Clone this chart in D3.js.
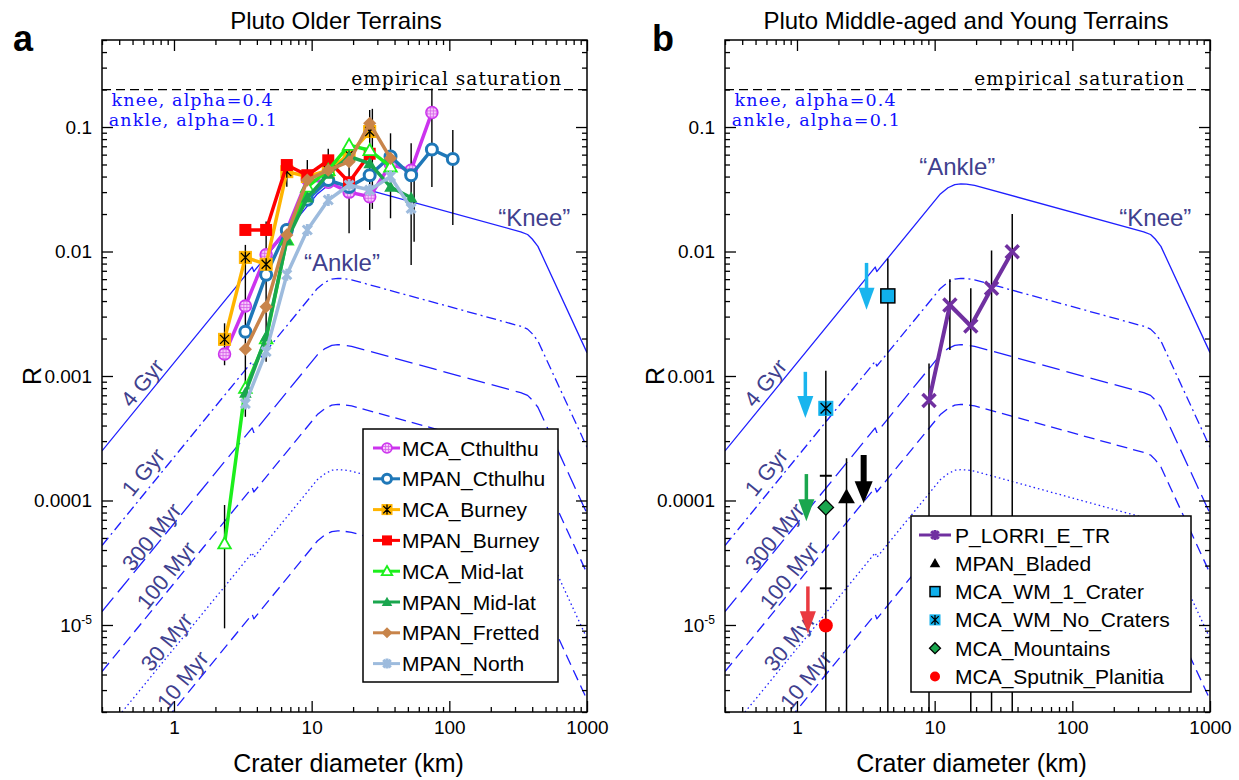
<!DOCTYPE html>
<html>
<head>
<meta charset="utf-8">
<script src="https://cdn.jsdelivr.net/npm/d3@7"></script>
<style>
  body { margin: 0; background: #fff; }
  text { font-family: "Liberation Sans", Arial, sans-serif; }
  .serif { font-family: "DejaVu Serif", serif; }
</style>
</head>
<body>
<svg id="fig" width="1239" height="780"></svg>
<script>
// ---- model isochrons (crater diameter km, R) ----
const modelD      = [0.3, 3.7, 3.8, 11, 12.5, 14, 15.5, 17, 19.5, 330, 370, 400, 440, 1000];
const model4Gyr   = [2.5e-4, 7.5e-3, 6.9e-3, 2.9e-2, 3.25e-2, 3.45e-2, 3.50e-2, 3.48e-2, 3.40e-2, 1.44e-2, 1.37e-2, 1.26e-2, 1.10e-2, 1.54e-3];
const model1Gyr   = [4.35e-5, 1.31e-3, 1.20e-3, 5.05e-3, 5.66e-3, 6.00e-3, 6.09e-3, 6.06e-3, 5.92e-3, 2.51e-3, 2.38e-3, 2.19e-3, 1.91e-3, 2.68e-4];
const model300Myr = [1.28e-5, 3.83e-4, 3.52e-4, 1.48e-3, 1.66e-3, 1.76e-3, 1.79e-3, 1.77e-3, 1.73e-3, 7.34e-4, 6.99e-4, 6.43e-4, 5.61e-4, 7.85e-5];
const model100Myr = [4.23e-6, 1.27e-4, 1.17e-4, 4.90e-4, 5.49e-4, 5.83e-4, 5.92e-4, 5.88e-4, 5.75e-4, 2.43e-4, 2.32e-4, 2.13e-4, 1.86e-4, 2.60e-5];
const model30Myr  = [1.27e-6, 3.80e-5, 3.49e-5, 1.47e-4, 1.64e-4, 1.75e-4, 1.77e-4, 1.76e-4, 1.72e-4, 7.29e-5, 6.93e-5, 6.38e-5, 5.57e-5, 7.79e-6];
const model10Myr  = [4.08e-7, 1.22e-5, 1.12e-5, 4.73e-5, 5.30e-5, 5.62e-5, 5.71e-5, 5.67e-5, 5.54e-5, 2.35e-5, 2.23e-5, 2.05e-5, 1.79e-5, 2.51e-6];
const ageLabels   = ["4 Gyr", "1 Gyr", "300 Myr", "100 Myr", "30 Myr", "10 Myr"];
const ageLabelD   = [0.59, 0.60, 0.69, 0.88, 0.885, 1.16];
const ageLabelR   = [8.8e-4, 1.69e-4, 5.1e-5, 2.5e-5, 7.3e-6, 3.6e-6];
const saturationR = 0.2;

// ---- panel a: older terrains ----
const binD = [2.33, 3.3, 4.67, 6.6, 9.3, 13.2, 18.7, 26.4, 37.4, 52.8, 74.7, 106];
const mcaCthulthu  = [1.50e-3, 3.65e-3, 9.4e-3, 0.0149, 0.038, 0.036, 0.030, 0.0275, 0.050, 0.045, 0.131, null];
const mpanCthulhu  = [null, 2.27e-3, 6.5e-3, 0.0149, 0.026, 0.0375, 0.033, 0.041, 0.058, 0.041, 0.066, 0.0553];
const mcaBurney    = [1.97e-3, 8.97e-3, 7.9e-3, 0.0438, 0.040, 0.045, 0.060, 0.092, null, null, null, null];
const mpanBurney   = [null, 0.0149, 0.0149, 0.0495, 0.041, 0.054, 0.036, 0.061, null, null, null, null];
const mcaMidlat    = [4.5e-5, 8.0e-4, 2.0e-3, 0.0124, 0.033, 0.045, 0.0716, 0.065, 0.048, null, null, null];
const mpanMidlat   = [null, 7.3e-4, 2.07e-3, 0.0124, 0.027, 0.042, 0.058, 0.051, 0.033, 0.027, null, null];
const mpanFretted  = [null, 1.64e-3, 3.6e-3, 0.0136, 0.0375, 0.045, 0.0526, 0.107, 0.056, null, null, null];
const mpanNorth    = [null, 6.0e-4, 1.57e-3, 6.5e-3, 0.0149, 0.0259, 0.0342, 0.0312, 0.040, 0.0222, null, null];
const olderNames   = ["MCA_Cthulthu", "MPAN_Cthulhu", "MCA_Burney", "MPAN_Burney", "MCA_Mid-lat", "MPAN_Mid-lat", "MPAN_Fretted", "MPAN_North"];
const olderSeries  = [mcaCthulthu, mpanCthulhu, mcaBurney, mpanBurney, mcaMidlat, mpanMidlat, mpanFretted, mpanNorth];
const olderErrD    = [2.33, 2.33, 3.3, 4.67, 6.6, 9.3, 13.2, 18.7, 26.4, 27.6, 37.4, 52.8, 55.5, 74.7, 106];
const olderErrLo   = [1.22e-3, 9.4e-6, 4.7e-4, 1.30e-3, 0.0332, 0.036, 0.045, 0.014, 0.0149, 0.022, 0.0185, 7.8e-3, 0.012, 0.033, 0.0163];
const olderErrHi   = [2.65e-3, 9.2e-5, 0.0113, 0.0174, 0.0543, 0.0543, 0.067, 0.0596, 0.137, 0.14, 0.089, 0.074, 0.047, 0.204, 0.0946];

// ---- panel b: middle-aged and young terrains ----
const lorriD = [9.1, 12.9, 18.3, 25.9, 36.6];
const lorriR = [6.35e-4, 3.72e-3, 2.52e-3, 5.07e-3, 9.97e-3];
const youngNames = ["MPAN_Bladed", "MCA_WM_1_Crater", "MCA_WM_No_Craters", "MCA_Mountains", "MCA_Sputnik_Planitia"];
const youngD     = [2.29, 4.57, 1.62, 1.62, 1.62];
const youngR     = [1.07e-4, 4.4e-3, 5.5e-4, 8.8e-5, 9.9e-6];
const youngErrD  = [1.62, 2.29, 4.57, 9.1, 12.9, 18.3, 25.9, 36.6];
const youngErrLo = [1e-7, 1e-7, 1e-7, 1e-7, 1.62e-3, 1e-7, 1e-7, 1e-7];
const youngErrHi = [1.1e-3, 2.18e-4, 8.8e-3, 1.26e-3, 5.98e-3, 5.07e-3, 0.0102, 0.020];
const youngCapR  = [1.58e-4, 1.97e-5];
const arrowD     = [3.2, 1.15, 1.17, 1.2, 3.05];
const arrowFrom  = [8.1e-3, 1.08e-3, 1.63e-4, 2.04e-5, 2.32e-4];
const arrowTo    = [3.4e-3, 4.6e-4, 6.8e-5, 8.6e-6, 9.5e-5];

// ---- layout / styles ----
const xDomain = [0.3, 1000], yDomain = [2e-6, 0.5];
const plotW = 485, plotTop = 40, plotBottom = 712;
const panelLeft = [102, 725];
const panelTag = ["a", "b"], tagX = [13, 652];
const panelTitle = ["Pluto Older Terrains", "Pluto Middle-aged and Young Terrains"], titleX = [336, 966];
const curveBlue = "#1f1fff", labelBlue = "#40408e";
const modelSeries = [model4Gyr, model1Gyr, model300Myr, model100Myr, model30Myr, model10Myr];
const modelDash = [null, "10,4,2,4", "18,7", "11,6", "1.5,3", "11,6"];
const olderStyle = [
  {c: "#cc33ee", m: "circleHatch"}, {c: "#1f78b8", m: "circleOpen"},
  {c: "#ffb400", m: "squareStar"},  {c: "#ff0000", m: "square"},
  {c: "#1cef1c", m: "triOpen"},     {c: "#1aa64e", m: "tri"},
  {c: "#c8844a", m: "diamond"},     {c: "#9dbbdd", m: "asterisk"}];
const youngStyle = [
  {c: "#000000", m: "tri"}, {c: "#10b0ec", m: "squareEdge"}, {c: "#10b0ec", m: "squareStar"},
  {c: "#1aa64e", m: "diamondEdge"}, {c: "#ff0000", m: "dot"}];
const arrowColor = ["#19b5ee", "#19b5ee", "#1aa64e", "#ea3a40", "#000000"];
const arrowWidth = [3.5, 3.5, 3.5, 3.5, 6];

const svg = d3.select("#fig");
const defs = svg.append("defs");
const pat = defs.append("pattern").attr("id", "hatch").attr("width", 3).attr("height", 3)
  .attr("patternUnits", "userSpaceOnUse");
pat.append("rect").attr("width", 3).attr("height", 3).attr("fill", "#f7c8fb");
pat.append("path").attr("d", "M1.5,0V3M0,1.5H3").attr("stroke", "#d561ea").attr("stroke-width", 0.8);

function marker(sel, type, cx, cy, c, s) {
  const g = sel.append("g").attr("transform", `translate(${cx},${cy})`);
  const h = s / 2;
  const star = (col, w) => g.append("path")
    .attr("d", `M${-h*0.75},${-h*0.75}L${h*0.75},${h*0.75}M${-h*0.75},${h*0.75}L${h*0.75},${-h*0.75}M0,${-h}V${h}`)
    .attr("stroke", col).attr("stroke-width", w).attr("fill", "none");
  const tri = `M0,${-h*1.05}L${h*1.05},${h*0.8}L${-h*1.05},${h*0.8}Z`;
  const dia = `M0,${-h*1.1}L${h*1.1},0L0,${h*1.1}L${-h*1.1},0Z`;
  if (type === "circleHatch") g.append("circle").attr("r", h).attr("fill", "url(#hatch)").attr("stroke", c).attr("stroke-width", 1.5);
  else if (type === "circleOpen") g.append("circle").attr("r", h - 0.5).attr("fill", "#fff").attr("stroke", c).attr("stroke-width", 3);
  else if (type === "squareStar") { g.append("rect").attr("x", -h).attr("y", -h).attr("width", s).attr("height", s).attr("fill", c).attr("stroke", c); star("#000", 1.3); }
  else if (type === "square") g.append("rect").attr("x", -h).attr("y", -h).attr("width", s).attr("height", s).attr("fill", c);
  else if (type === "squareEdge") g.append("rect").attr("x", -h).attr("y", -h).attr("width", s).attr("height", s).attr("fill", c).attr("stroke", "#000").attr("stroke-width", 1.5);
  else if (type === "triOpen") g.append("path").attr("d", tri).attr("fill", "#fff").attr("stroke", c).attr("stroke-width", 1.8);
  else if (type === "tri") g.append("path").attr("d", tri).attr("fill", c);
  else if (type === "diamond") g.append("path").attr("d", dia).attr("fill", c);
  else if (type === "diamondEdge") g.append("path").attr("d", dia).attr("fill", c).attr("stroke", "#000").attr("stroke-width", 1.3);
  else if (type === "asterisk") star(c, 3);
  else if (type === "x") g.append("path").attr("d", `M${-h},${-h}L${h},${h}M${-h},${h}L${h},${-h}`).attr("stroke", c).attr("stroke-width", 3.5);
  else if (type === "dot") g.append("circle").attr("r", h).attr("fill", c);
}

const minorOf = (lo, hi) => {
  const out = [];
  for (let e = -7; e <= 3; e++) for (let k = 1; k <= 9; k++) {
    const v = k * Math.pow(10, e);
    if (v >= lo * 0.999 && v <= hi * 1.001) out.push(+v.toPrecision(3));
  }
  return out;
};

panelLeft.forEach((left, pi) => {
  const x = d3.scaleLog().domain(xDomain).range([left, left + plotW]);
  const y = d3.scaleLog().domain(yDomain).range([plotBottom, plotTop]);
  const g = svg.append("g");
  defs.append("clipPath").attr("id", "clip" + pi).append("rect")
    .attr("x", left).attr("y", plotTop).attr("width", plotW).attr("height", plotBottom - plotTop);
  const plot = g.append("g").attr("clip-path", `url(#clip${pi})`);

  // saturation line
  plot.append("line").attr("x1", x(xDomain[0])).attr("x2", x(xDomain[1]))
    .attr("y1", y(saturationR)).attr("y2", y(saturationR))
    .attr("stroke", "#000").attr("stroke-width", 1.2).attr("stroke-dasharray", "9,5");
  plot.append("text").attr("class", "serif").attr("x", x(650)).attr("y", y(0.218))
    .attr("text-anchor", "end").attr("font-size", 18.5).attr("textLength", 210).attr("lengthAdjust", "spacing")
    .text("empirical saturation");
  plot.append("text").attr("class", "serif").attr("x", x(0.352)).attr("y", y(0.148))
    .attr("font-size", 17.5).attr("fill", "#1010ff").attr("textLength", 161).attr("lengthAdjust", "spacing")
    .text("knee, alpha=0.4");
  plot.append("text").attr("class", "serif").attr("x", x(0.336)).attr("y", y(0.102))
    .attr("font-size", 17.5).attr("fill", "#1010ff").attr("textLength", 168).attr("lengthAdjust", "spacing")
    .text("ankle, alpha=0.1");

  // model curves
  const mline = d3.line().x((d, i) => x(modelD[i])).y(d => y(d));
  modelSeries.forEach((s, i) => {
    plot.append("path").attr("d", mline(s)).attr("fill", "none")
      .attr("stroke", curveBlue).attr("stroke-width", 1.3).attr("stroke-linejoin", "round")
      .attr("stroke-dasharray", modelDash[i]);
  });
  ageLabels.forEach((t, i) => {
    plot.append("text").attr("transform", `translate(${x(ageLabelD[i])},${y(ageLabelR[i])}) rotate(-51)`)
      .attr("text-anchor", "middle").attr("dominant-baseline", "central")
      .attr("font-size", 22).attr("fill", labelBlue).text(t);
  });
  const ank = pi === 0 ? [16.6, 8.1e-3] : [14.6, 0.0478];
  const kne = pi === 0 ? [414, 0.0189] : [401, 0.0189];
  plot.append("text").attr("x", x(ank[0])).attr("y", y(ank[1])).attr("text-anchor", "middle")
    .attr("dominant-baseline", "central").attr("font-size", 24).attr("fill", labelBlue).text("\u201cAnkle\u201d");
  plot.append("text").attr("x", x(kne[0])).attr("y", y(kne[1])).attr("text-anchor", "middle")
    .attr("dominant-baseline", "central").attr("font-size", 24).attr("fill", labelBlue).text("\u201cKnee\u201d");

  if (pi === 0) {
    olderErrD.forEach((d, i) => {
      plot.append("line").attr("x1", x(d)).attr("x2", x(d))
        .attr("y1", y(olderErrLo[i])).attr("y2", y(olderErrHi[i]))
        .attr("stroke", "#000").attr("stroke-width", 1.4);
    });
    const sline = d3.line().defined(d => d != null).x((d, i) => x(binD[i])).y(d => y(d));
    olderSeries.forEach((s, si) => {
      const st = olderStyle[si];
      plot.append("path").attr("d", sline(s)).attr("fill", "none")
        .attr("stroke", st.c).attr("stroke-width", 3.5).attr("stroke-linejoin", "round");
      s.forEach((v, i) => { if (v != null) marker(plot, st.m, x(binD[i]), y(v), st.c, 12); });
    });
    // legend
    const lg = g.append("g");
    lg.append("rect").attr("x", left + 261).attr("y", 429).attr("width", 195).attr("height", 253)
      .attr("fill", "#fff").attr("stroke", "#000").attr("stroke-width", 1.5);
    olderNames.forEach((n, i) => {
      const cy = 448 + i * 30.8, st = olderStyle[i];
      lg.append("line").attr("x1", left + 271).attr("x2", left + 298).attr("y1", cy).attr("y2", cy)
        .attr("stroke", st.c).attr("stroke-width", 3);
      marker(lg, st.m, left + 285, cy, st.c, 10);
      lg.append("text").attr("x", left + 300).attr("y", cy).attr("dominant-baseline", "central")
        .attr("font-size", 21).text(n);
    });
  } else {
    youngErrD.forEach((d, i) => {
      plot.append("line").attr("x1", x(d)).attr("x2", x(d))
        .attr("y1", y(youngErrLo[i])).attr("y2", y(youngErrHi[i]))
        .attr("stroke", "#000").attr("stroke-width", 1.5);
    });
    youngCapR.forEach(r => {
      plot.append("line").attr("x1", x(youngErrD[0]) - 6).attr("x2", x(youngErrD[0]) + 6)
        .attr("y1", y(r)).attr("y2", y(r)).attr("stroke", "#000").attr("stroke-width", 2);
    });
    arrowD.forEach((d, i) => {
      const ax = x(d), y0 = y(arrowFrom[i]), y1 = y(arrowTo[i]);
      const hw = arrowWidth[i] > 4 ? 9 : 8, hh = 22;
      plot.append("line").attr("x1", ax).attr("x2", ax).attr("y1", y0).attr("y2", y1 - hh + 2)
        .attr("stroke", arrowColor[i]).attr("stroke-width", arrowWidth[i]);
      plot.append("path").attr("d", `M${ax - hw},${y1 - hh}L${ax + hw},${y1 - hh}L${ax},${y1}Z`)
        .attr("fill", arrowColor[i]);
    });
    youngD.forEach((d, i) => marker(plot, youngStyle[i].m, x(d), y(youngR[i]), youngStyle[i].c, i === 0 ? 16 : 14));
    const lline = d3.line().x((d, i) => x(lorriD[i])).y(d => y(d));
    plot.append("path").attr("d", lline(lorriR)).attr("fill", "none")
      .attr("stroke", "#7030a0").attr("stroke-width", 4).attr("stroke-linejoin", "round");
    lorriR.forEach((v, i) => marker(plot, "x", x(lorriD[i]), y(v), "#7030a0", 13));
    // legend
    const lg = g.append("g");
    lg.append("rect").attr("x", left + 186).attr("y", 516).attr("width", 280).attr("height", 176)
      .attr("fill", "#fff").attr("stroke", "#000").attr("stroke-width", 1.5);
    const names = ["P_LORRI_E_TR"].concat(youngNames);
    names.forEach((n, i) => {
      const cy = 535 + i * 28.3;
      if (i === 0) {
        lg.append("line").attr("x1", left + 194).attr("x2", left + 226).attr("y1", cy).attr("y2", cy)
          .attr("stroke", "#7030a0").attr("stroke-width", 3);
        marker(lg, "asterisk", left + 210, cy, "#7030a0", 10);
      } else {
        const st = youngStyle[i - 1];
        marker(lg, st.m, left + 210, cy, st.c, 10);
      }
      lg.append("text").attr("x", left + 230).attr("y", cy).attr("dominant-baseline", "central")
        .attr("font-size", 21).text(n);
    });
  }

  // axes
  const xMajor = [1, 10, 100, 1000], yMajor = [1e-5, 1e-4, 1e-3, 1e-2, 1e-1];
  const xMinor = minorOf(xDomain[0], xDomain[1]).filter(v => !xMajor.includes(v));
  const yMinor = minorOf(yDomain[0], yDomain[1]).filter(v => !yMajor.some(m => Math.abs(m - v) / m < 1e-6));
  const yFmt = v => v === 1e-5 ? "10" : String(v);
  const addAxis = (axis, tx, ty) => {
    const a = g.append("g").attr("transform", `translate(${tx},${ty})`).call(axis);
    a.select(".domain").remove();
    a.selectAll("line").attr("stroke", "#000").attr("stroke-width", 1.3);
    a.selectAll("text").attr("font-size", 19).attr("fill", "#000").attr("font-family", "Liberation Sans, Arial, sans-serif");
    return a;
  };
  addAxis(d3.axisBottom(x).tickValues(xMajor).tickSize(-11).tickPadding(9).tickFormat(d3.format("d")), 0, plotBottom);
  addAxis(d3.axisBottom(x).tickValues(xMinor).tickSize(-5).tickFormat(""), 0, plotBottom);
  addAxis(d3.axisTop(x).tickValues(xMajor).tickSize(-11).tickFormat(""), 0, plotTop);
  addAxis(d3.axisTop(x).tickValues(xMinor).tickSize(-5).tickFormat(""), 0, plotTop);
  const ya = addAxis(d3.axisLeft(y).tickValues(yMajor).tickSize(-11).tickPadding(10).tickFormat(yFmt), left, 0);
  ya.selectAll("text").filter(d => d === 1e-5).append("tspan").attr("dy", "-0.6em").attr("font-size", 12).text("-5");
  addAxis(d3.axisLeft(y).tickValues(yMinor).tickSize(-5).tickFormat(""), left, 0);
  addAxis(d3.axisRight(y).tickValues(yMajor).tickSize(-11).tickFormat(""), left + plotW, 0);
  addAxis(d3.axisRight(y).tickValues(yMinor).tickSize(-5).tickFormat(""), left + plotW, 0);

  g.append("rect").attr("x", left).attr("y", plotTop).attr("width", plotW).attr("height", plotBottom - plotTop)
    .attr("fill", "none").attr("stroke", "#000").attr("stroke-width", 1.5);

  // titles and labels
  g.append("text").attr("x", titleX[pi]).attr("y", 29).attr("text-anchor", "middle")
    .attr("font-size", 24).text(panelTitle[pi]);
  g.append("text").attr("x", left + plotW / 2 + 4).attr("y", 772).attr("text-anchor", "middle")
    .attr("font-size", 25).text("Crater diameter (km)");
  g.append("text").attr("transform", `translate(${left - 70},${376}) rotate(-90)`).attr("text-anchor", "middle")
    .attr("dominant-baseline", "central").attr("font-size", 25).text("R");
  g.append("text").attr("x", tagX[pi]).attr("y", 51).attr("font-size", 36).attr("font-weight", "bold")
    .text(panelTag[pi]);
});
</script>
</body>
</html>
